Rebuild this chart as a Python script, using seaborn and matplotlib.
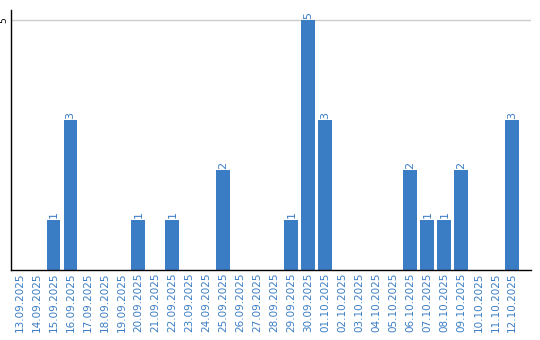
import matplotlib
matplotlib.use("Agg")
import matplotlib.pyplot as plt
import seaborn as sns
import pandas as pd

dates = ["13.09.2025", "14.09.2025", "15.09.2025", "16.09.2025", "17.09.2025",
         "18.09.2025", "19.09.2025", "20.09.2025", "21.09.2025", "22.09.2025",
         "23.09.2025", "24.09.2025", "25.09.2025", "26.09.2025", "27.09.2025",
         "28.09.2025", "29.09.2025", "30.09.2025", "01.10.2025", "02.10.2025",
         "03.10.2025", "04.10.2025", "05.10.2025", "06.10.2025", "07.10.2025",
         "08.10.2025", "09.10.2025", "10.10.2025", "11.10.2025", "12.10.2025"]
counts = [0, 0, 1, 3, 0, 0, 0, 1, 0, 1, 0, 0, 2, 0, 0, 0, 1, 5, 3, 0,
          0, 0, 0, 2, 1, 1, 2, 0, 0, 3]
y_ticks = [5]

sns.set_theme(style="white")
plt.rcParams['font.family'] = ['DejaVu Sans']

df = pd.DataFrame({"date": dates, "count": counts})
fig = plt.figure(figsize=(5.4, 3.4), dpi=100)
ax = fig.add_axes([11/540, 70/340, 520/540, 260/340])
bar_color = "#3b7dc4"
sns.barplot(data=df, x="date", y="count", color=bar_color, saturation=1,
            width=0.82, linewidth=0, edgecolor="none", ax=ax)
ax.set_ylim(0, 5.2)
ax.set_xlim(-0.5, len(dates) - 0.5 + 0.6)
ax.set_yticks(y_ticks)
ax.set_yticklabels([str(t) for t in y_ticks], rotation=90, va="center",
                   fontsize=6.5, color="black")
ax.yaxis.grid(True, color="#cccccc", linewidth=1)
ax.set_axisbelow(True)
ax.tick_params(axis="both", length=0, pad=2)
ax.set_xticks(range(len(dates)))
ax.set_xticklabels(dates, rotation=90, fontsize=7.5, color="#3b7dc4")
ax.set_xlabel("")
ax.set_ylabel("")
for s in ["top", "right"]:
    ax.spines[s].set_visible(False)
ax.spines["left"].set_color("black")
ax.spines["bottom"].set_color("black")
ax.spines["left"].set_linewidth(1)
ax.spines["bottom"].set_linewidth(1)

for i, v in enumerate(counts):
    if v > 0:
        ax.text(i, v + 0.03, str(v), rotation=90, ha="center", va="bottom",
                fontsize=8, color="#3b7dc4")

fig.savefig("out.png", dpi=100)
